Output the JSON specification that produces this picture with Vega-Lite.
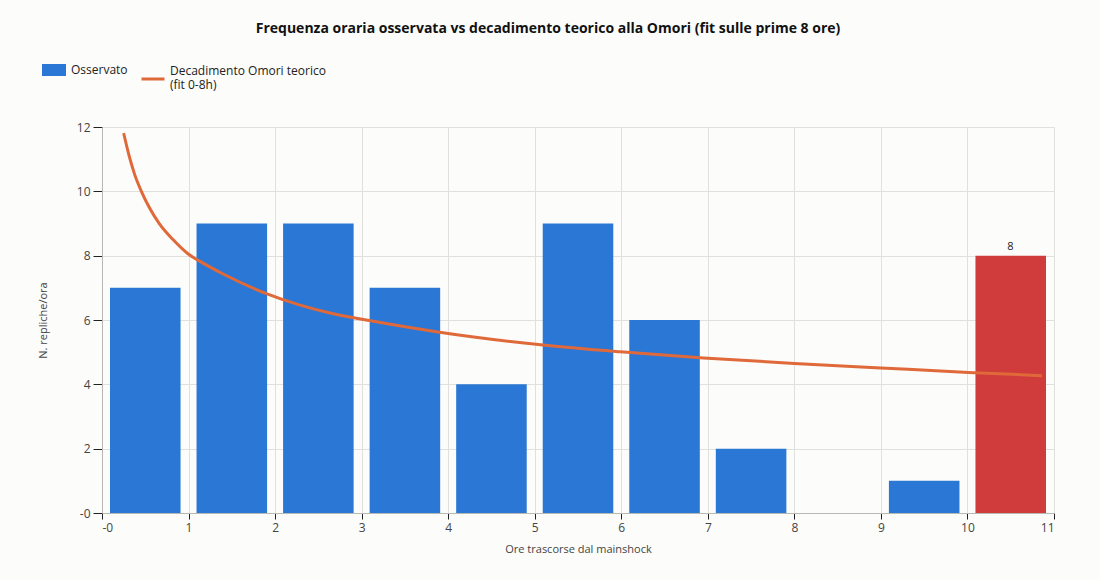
{
  "$schema": "https://vega.github.io/schema/vega-lite/v6.json",
  "width": 952,
  "height": 386,
  "autosize": {"type": "none"},
  "padding": {"left": 102, "top": 127, "right": 46, "bottom": 67},
  "background": "#fcfcfa",
  "title": {
    "text": "Frequenza oraria osservata vs decadimento teorico alla Omori (fit sulle prime 8 ore)",
    "font": "Segoe UI, Open Sans",
    "fontSize": 14,
    "fontWeight": "bold",
    "color": "#111111",
    "anchor": "middle",
    "baseline": "alphabetic",
    "dx": -30,
    "offset": 11
  },
  "config": {
    "view": {"stroke": null},
    "font": "Segoe UI, Open Sans",
    "axis": {
      "grid": true,
      "gridColor": "#e0e0dc",
      "gridWidth": 1,
      "domainColor": "#b8b8b4",
      "tickColor": "#222222",
      "labelColor": "#444444",
      "labelFontSize": 12,
      "titleFontSize": 11,
      "titleFontWeight": "normal",
      "titleColor": "#444444"
    },
    "legend": {
      "labelFontSize": 12,
      "labelColor": "#222222",
      "orient": "none"
    }
  },
  "datasets": {
    "osservato": [
      {"inizio": 0, "fine": 1, "n": 7, "tipo": "Osservato"},
      {"inizio": 1, "fine": 2, "n": 9, "tipo": "Osservato"},
      {"inizio": 2, "fine": 3, "n": 9, "tipo": "Osservato"},
      {"inizio": 3, "fine": 4, "n": 7, "tipo": "Osservato"},
      {"inizio": 4, "fine": 5, "n": 4, "tipo": "Osservato"},
      {"inizio": 5, "fine": 6, "n": 9, "tipo": "Osservato"},
      {"inizio": 6, "fine": 7, "n": 6, "tipo": "Osservato"},
      {"inizio": 7, "fine": 8, "n": 2, "tipo": "Osservato"},
      {"inizio": 8, "fine": 9, "n": 0, "tipo": "Osservato"},
      {"inizio": 9, "fine": 10, "n": 1, "tipo": "Osservato"},
      {"inizio": 10, "fine": 11, "n": 8, "tipo": "Ora in corso"}
    ],
    "omori": [
      {"t": 0.25, "v": 11.81, "serie": "Decadimento Omori teorico (fit 0-8h)"},
      {"t": 0.32, "v": 11.04, "serie": "Decadimento Omori teorico (fit 0-8h)"},
      {"t": 0.378, "v": 10.52, "serie": "Decadimento Omori teorico (fit 0-8h)"},
      {"t": 0.455, "v": 10.0, "serie": "Decadimento Omori teorico (fit 0-8h)"},
      {"t": 0.55, "v": 9.48, "serie": "Decadimento Omori teorico (fit 0-8h)"},
      {"t": 0.666, "v": 8.98, "serie": "Decadimento Omori teorico (fit 0-8h)"},
      {"t": 0.82, "v": 8.5, "serie": "Decadimento Omori teorico (fit 0-8h)"},
      {"t": 0.993, "v": 8.06, "serie": "Decadimento Omori teorico (fit 0-8h)"},
      {"t": 1.128, "v": 7.83, "serie": "Decadimento Omori teorico (fit 0-8h)"},
      {"t": 1.4, "v": 7.43, "serie": "Decadimento Omori teorico (fit 0-8h)"},
      {"t": 1.9, "v": 6.82, "serie": "Decadimento Omori teorico (fit 0-8h)"},
      {"t": 2.28, "v": 6.47, "serie": "Decadimento Omori teorico (fit 0-8h)"},
      {"t": 2.66, "v": 6.2, "serie": "Decadimento Omori teorico (fit 0-8h)"},
      {"t": 3.2, "v": 5.93, "serie": "Decadimento Omori teorico (fit 0-8h)"},
      {"t": 3.88, "v": 5.63, "serie": "Decadimento Omori teorico (fit 0-8h)"},
      {"t": 5.07, "v": 5.23, "serie": "Decadimento Omori teorico (fit 0-8h)"},
      {"t": 5.99, "v": 5.01, "serie": "Decadimento Omori teorico (fit 0-8h)"},
      {"t": 6.95, "v": 4.82, "serie": "Decadimento Omori teorico (fit 0-8h)"},
      {"t": 8.0, "v": 4.65, "serie": "Decadimento Omori teorico (fit 0-8h)"},
      {"t": 9.0, "v": 4.51, "serie": "Decadimento Omori teorico (fit 0-8h)"},
      {"t": 10.01, "v": 4.37, "serie": "Decadimento Omori teorico (fit 0-8h)"},
      {"t": 10.86, "v": 4.27, "serie": "Decadimento Omori teorico (fit 0-8h)"}
    ]
  },
  "encoding": {
    "x": {
      "type": "quantitative",
      "scale": {"domain": [0, 11], "nice": false, "zero": false, "padding": 0},
      "axis": {
        "title": "Ore trascorse dal mainshock",
        "values": [0, 1, 2, 3, 4, 5, 6, 7, 8, 9, 10, 11],
        "labelExpr": "datum.value == 0 ? '-0' : datum.label",
        "tickSize": 6,
        "labelPadding": 3,
        "titlePadding": 10
      }
    },
    "y": {
      "type": "quantitative",
      "scale": {"domain": [0, 12], "nice": false, "padding": 0},
      "axis": {
        "title": "N. repliche/ora",
        "values": [0, 2, 4, 6, 8, 10, 12],
        "labelExpr": "datum.value == 0 ? '-0' : datum.label",
        "tickSize": 9,
        "labelPadding": 3,
        "titlePadding": 28
      }
    }
  },
  "layer": [
    {
      "data": {"name": "osservato"},
      "mark": {"type": "bar", "xOffset": 8, "x2Offset": -8},
      "encoding": {
        "x": {"field": "inizio"},
        "x2": {"field": "fine"},
        "y": {"field": "n"},
        "y2": {"datum": 0},
        "fill": {
          "field": "tipo",
          "type": "nominal",
          "scale": {"domain": ["Osservato", "Ora in corso"], "range": ["#2a77d5", "#d03b3b"]},
          "legend": {
            "title": null,
            "values": ["Osservato"],
            "symbolType": "M-1,-0.5H1V0.5H-1Z",
            "symbolSize": 576,
            "symbolStrokeWidth": 0,
            "labelOffset": 5,
            "padding": 0,
            "legendX": -60,
            "legendY": -69
          }
        }
      }
    },
    {
      "data": {"name": "osservato"},
      "transform": [{"filter": "datum.tipo == 'Ora in corso'"}],
      "mark": {"type": "text", "align": "center", "dx": 43, "dy": -9, "fontSize": 11, "color": "#222222"},
      "encoding": {
        "x": {"field": "inizio"},
        "y": {"field": "n"},
        "text": {"field": "n", "type": "quantitative"}
      }
    },
    {
      "data": {"name": "omori"},
      "mark": {"type": "line", "strokeWidth": 3, "interpolate": "monotone"},
      "encoding": {
        "x": {"field": "t"},
        "y": {"field": "v"},
        "stroke": {
          "field": "serie",
          "type": "nominal",
          "scale": {"range": ["#e0693a"]},
          "legend": {
            "title": null,
            "symbolType": "stroke",
            "symbolSize": 529,
            "symbolStrokeWidth": 3,
            "labelOffset": 4,
            "labelLineHeight": 17,
            "padding": 0,
            "labelExpr": "['Decadimento Omori teorico', '(fit 0-8h)']",
            "legendX": 38,
            "legendY": -61,
            "encode": {"labels": {"update": {"dy": {"value": -8}}}}
          }
        }
      }
    }
  ]
}
